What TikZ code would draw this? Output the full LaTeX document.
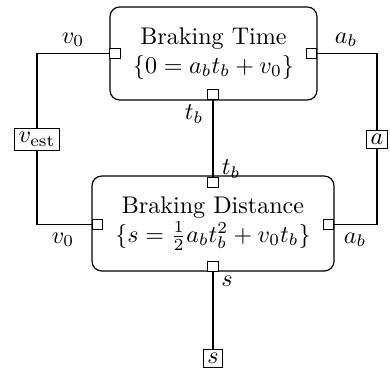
\documentclass[tikz,border=0pt]{standalone}
\usepackage{amsmath}
\begin{document}
\begin{tikzpicture}[x=0.415pt,y=-0.415pt,
  block/.style={draw,rounded corners=4pt,align=center,inner sep=0pt,line width=0.5pt},
  port/.style={draw,fill=white,minimum size=4.4pt,inner sep=0pt,line width=0.45pt},
  val/.style={draw,inner sep=1.6pt,line width=0.45pt,fill=white},
  wire/.style={line width=0.45pt},
  lbl/.style={inner sep=0pt}]
\useasboundingbox (0,0) rectangle (390,372);
% blocks
\node[block,minimum width=85.9pt,minimum height=38.6pt] (time) at (213.5,53.5)
  {Braking Time\\ $\{0=a_bt_b+v_0\}$};
\node[block,minimum width=100.4pt,minimum height=39.4pt] (dist) at (213,223.5)
  {Braking Distance\\ $\{s=\tfrac{1}{2}a_bt_b^2+v_0t_b\}$};
% value nodes
\node[val] (vest) at (37,139.5) {$v_{\mathrm{est}}$};
\node[val] (a) at (377,139.5) {$a$};
\node[val] (s) at (213,358.5) {$s$};
% ports
\node[port] (tl) at (115,53.5) {};
\node[port] (tr) at (311.5,53.5) {};
\node[port] (tbt) at (213,94.5) {};
\node[port] (dt) at (213,182.5) {};
\node[port] (dl) at (97.5,224.5) {};
\node[port] (dr) at (328.5,224.5) {};
\node[port] (db) at (213,266.5) {};
% wires
\draw[wire] (tl.west) -| (vest.north);
\draw[wire] (vest.south) |- (dl.west);
\draw[wire] (tr.east) -| (a.north);
\draw[wire] (a.south) |- (dr.east);
\draw[wire] (tbt.south) -- (dt.north);
\draw[wire] (db.south) -- (s.north);
% labels
\node[lbl] (l1) at (73,40) {$v_0$};
\node[lbl] (l2) at (346,40) {$a_b$};
\node[lbl] (l3) at (194,114) {$t_b$};
\node[lbl] (l4) at (231,169) {$t_b$};
\node[lbl] (l5) at (63,240) {$v_0$};
\node[lbl] (l6) at (355,240) {$a_b$};
\node[lbl] (l7) at (227,281) {$s$};
\end{tikzpicture}
\end{document}
